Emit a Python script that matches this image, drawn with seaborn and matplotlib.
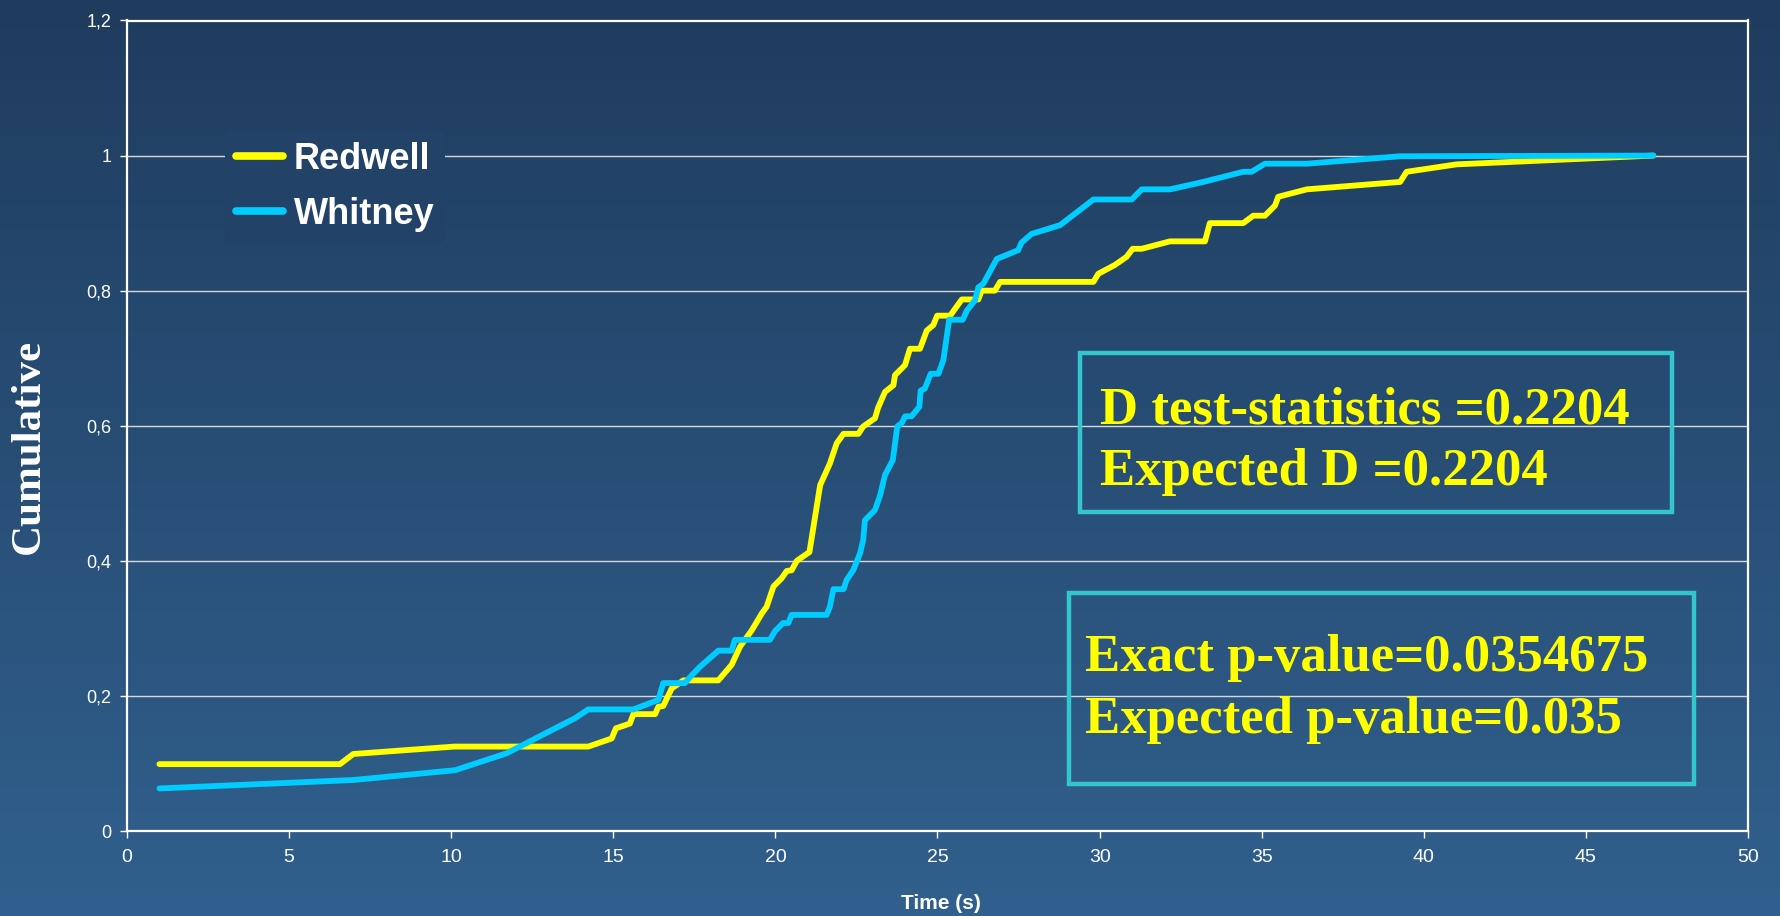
import numpy as np
import pandas as pd
import matplotlib
matplotlib.use("Agg")
import matplotlib.pyplot as plt
import seaborn as sns
from matplotlib.patches import Rectangle
from matplotlib.ticker import FuncFormatter

# Redwell cumulative curve
redwell_time = [1.0, 6.57, 6.98, 10.1, 14.23, 14.95, 15.08, 15.51, 15.62, 16.29, 16.39, 16.54,
                16.80, 17.16, 18.24, 18.65, 18.91, 19.27, 19.58, 19.73, 19.94, 20.19, 20.35,
                20.50, 20.66, 21.05, 21.38, 21.68, 21.89, 22.10, 22.56, 22.71, 23.07, 23.17,
                23.38, 23.64, 23.69, 23.90, 24.0, 24.15, 24.46, 24.67, 24.87, 24.99, 25.39,
                25.75, 26.26, 26.36, 26.77, 26.93, 29.81, 29.96, 30.47, 30.83, 31.02, 31.30,
                32.17, 33.25, 33.40, 34.43, 34.74, 35.10, 35.41, 35.51, 36.39, 39.27, 39.47,
                41.01, 47.08]
redwell_cum = [0.099, 0.099, 0.114, 0.125, 0.125, 0.137, 0.152, 0.159, 0.173, 0.173, 0.184, 0.185,
               0.211, 0.223, 0.223, 0.246, 0.273, 0.297, 0.322, 0.332, 0.362, 0.374, 0.385,
               0.386, 0.400, 0.413, 0.512, 0.544, 0.574, 0.588, 0.588, 0.599, 0.611, 0.627,
               0.650, 0.660, 0.675, 0.685, 0.690, 0.714, 0.714, 0.741, 0.749, 0.763, 0.763,
               0.787, 0.787, 0.800, 0.800, 0.813, 0.813, 0.825, 0.838, 0.850, 0.862, 0.862,
               0.873, 0.873, 0.900, 0.900, 0.911, 0.911, 0.926, 0.939, 0.950, 0.961, 0.976,
               0.987, 1.0]

# Whitney cumulative curve
whitney_time = [1.0, 6.98, 10.12, 11.71, 13.25, 13.82, 14.23, 15.62, 16.39, 16.54, 17.21, 17.37,
                17.67, 18.24, 18.65, 18.75, 19.83, 19.99, 20.24, 20.40, 20.50, 21.58, 21.68,
                21.79, 22.10, 22.20, 22.40, 22.61, 22.71, 22.76, 23.07, 23.23, 23.38, 23.62,
                23.76, 23.90, 24.0, 24.20, 24.44, 24.48, 24.61, 24.79, 25.03, 25.18, 25.36,
                25.78, 25.90, 26.16, 26.26, 26.41, 26.83, 27.49, 27.59, 27.90, 28.78, 29.81,
                30.99, 31.30, 32.17, 33.20, 34.43, 34.69, 35.10, 36.39, 39.27, 47.08]
whitney_cum = [0.063, 0.0755, 0.090, 0.115, 0.153, 0.167, 0.180, 0.180, 0.194, 0.219, 0.219, 0.228,
               0.243, 0.267, 0.267, 0.283, 0.283, 0.296, 0.308, 0.308, 0.320, 0.320, 0.332,
               0.358, 0.358, 0.372, 0.386, 0.411, 0.431, 0.460, 0.475, 0.497, 0.527, 0.549,
               0.599, 0.604, 0.614, 0.614, 0.628, 0.652, 0.655, 0.677, 0.677, 0.697, 0.757,
               0.757, 0.770, 0.786, 0.805, 0.810, 0.847, 0.860, 0.871, 0.884, 0.897, 0.935,
               0.935, 0.950, 0.950, 0.961, 0.976, 0.976, 0.988, 0.988, 0.999, 1.0]

groups = ["Redwell", "Whitney"]
colors = {"Redwell": "#FFFF00", "Whitney": "#00CCFF"}

box1_lines = ["D test-statistics =0.2204", "Expected D =0.2204"]
box2_lines = ["Exact p-value=0.0354675", "Expected p-value=0.035"]

x_ticks = list(range(0, 51, 5))
y_ticks = [0, 0.2, 0.4, 0.6, 0.8, 1.0, 1.2]

df = pd.concat([
    pd.DataFrame({"time": redwell_time, "cum": redwell_cum, "group": "Redwell"}),
    pd.DataFrame({"time": whitney_time, "cum": whitney_cum, "group": "Whitney"}),
])

sns.set_theme(style="white")
plt.rcParams["font.family"] = ["Liberation Sans", "DejaVu Sans"]

fig = plt.figure(figsize=(17.81, 9.16), dpi=100)

# gradient background
top = np.array([31, 60, 94]) / 255
bottom = np.array([49, 96, 142]) / 255
t = np.linspace(0, 1, 256)[:, None]
grad = (top[None, :] * (1 - t) + bottom[None, :] * t)[:, None, :]
bg = fig.add_axes([0, 0, 1, 1], zorder=0)
bg.imshow(grad, aspect="auto", extent=[0, 1, 0, 1])
bg.axis("off")

ax = fig.add_axes([127 / 1781, 1 - 831 / 916, 1621 / 1781, 810.5 / 916], zorder=1)
ax.set_facecolor("none")

sns.lineplot(data=df, x="time", y="cum", hue="group", palette=colors, hue_order=groups,
             estimator=None, sort=False, lw=4.2, solid_capstyle="round", ax=ax)

ax.set_xlim(0, 50)
ax.set_ylim(0, 1.2)
ax.set_xticks(x_ticks)
ax.set_yticks(y_ticks)
fmt = FuncFormatter(lambda v, p: f"{v:g}".replace(".", ","))
ax.yaxis.set_major_formatter(fmt)
ax.grid(axis="y", color="#d8d8d8", lw=1.0)
ax.grid(axis="x", visible=False)
for s in ax.spines.values():
    s.set_color("white")
    s.set_linewidth(1.6)
ax.tick_params(axis="both", colors="white", length=5, width=1, direction="out",
               left=True, bottom=True)
ax.tick_params(axis="x", labelsize=14, pad=8)
ax.tick_params(axis="y", labelsize=13, pad=6)

ax.set_xlabel("Time (s)", fontsize=15, fontweight="bold", color="white")
ax.xaxis.set_label_coords(0.502, -0.078)
ax.set_ylabel("Cumulative", fontsize=31, fontweight="bold", color="white",
              family=["Liberation Serif", "DejaVu Serif"], va="center", ha="center")
ax.yaxis.set_label_coords(-0.0605, 0.474)

leg = ax.legend(loc="center left", bbox_to_anchor=(225 / 1781, 1 - 187 / 916),
                bbox_transform=fig.transFigure, frameon=True, fontsize=26,
                handlelength=1.3, handletextpad=0.3, labelspacing=0.55,
                borderpad=0.3, borderaxespad=0)
leg.get_frame().set_facecolor((34 / 255, 67 / 255, 103 / 255))
leg.get_frame().set_edgecolor("none")
leg.get_frame().set_alpha(1)
for txt in leg.get_texts():
    txt.set_color("white")
    txt.set_fontweight("bold")
for line in leg.get_lines():
    line.set_linewidth(5.5)
    line.set_solid_capstyle("round")

box_color = "#33C6CC"
ax.add_patch(Rectangle((29.40, 0.473), 47.65 - 29.40, 0.707 - 0.473, fill=False,
                       edgecolor=box_color, lw=3.2, zorder=5))
ax.add_patch(Rectangle((29.05, 0.069), 48.32 - 29.05, 0.353 - 0.069, fill=False,
                       edgecolor=box_color, lw=3.2, zorder=5))

serif = ["Liberation Serif", "DejaVu Serif"]
for line, yy in zip(box1_lines, [0.604, 0.512]):
    ax.text(30.0, yy, line, color="#FFFF00", fontsize=38, fontweight="bold",
            family=serif, va="baseline", ha="left", zorder=6)
for line, yy in zip(box2_lines, [0.237, 0.145]):
    ax.text(29.54, yy, line, color="#FFFF00", fontsize=38, fontweight="bold",
            family=serif, va="baseline", ha="left", zorder=6)

fig.savefig("out.png", dpi=100)
